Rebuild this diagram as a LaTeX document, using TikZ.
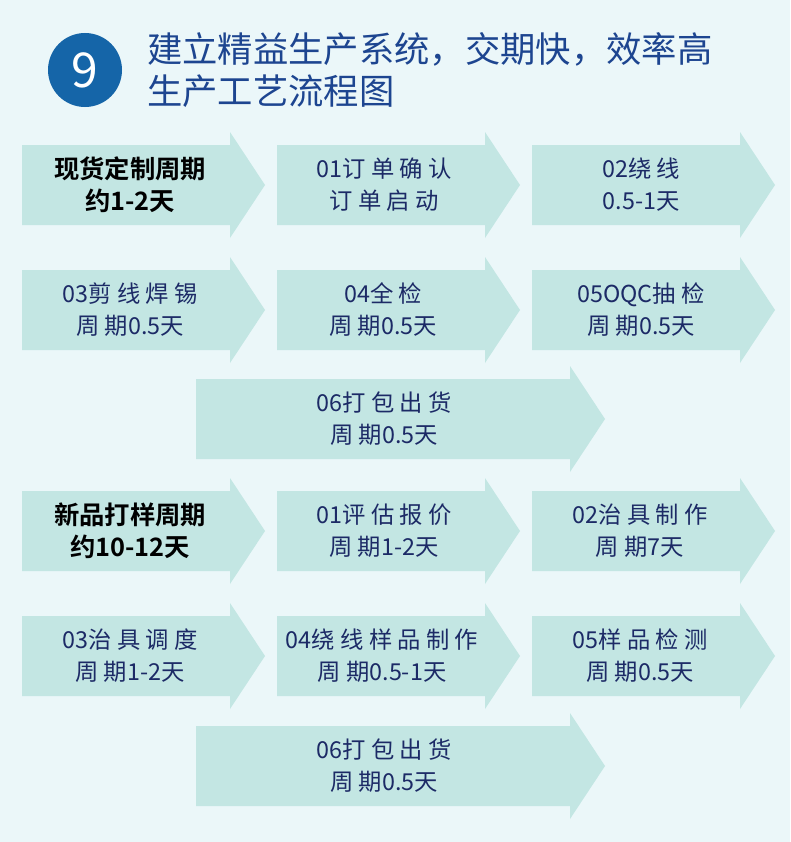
\documentclass[tikz,border=0pt]{standalone}
\usepackage{fontspec}
\newfontfamily\cjk{Noto Sans CJK SC}
\newfontfamily\cjkb{Noto Sans CJK SC Bold}
\definecolor{bg}{HTML}{EBF7F9}
\definecolor{ar}{HTML}{C3E6E3}
\definecolor{nv}{HTML}{1C2A66}
\definecolor{tt}{HTML}{1D4590}
\definecolor{cb}{HTML}{1565A8}
\newcommand{\flowarrow}[4]{% x, yc, bodywidth, name
  \fill[ar] (#1,#2-40) -- (#1+#3,#2-40) -- (#1+#3,#2-53) -- (#1+#3+35,#2) -- (#1+#3,#2+53) -- (#1+#3,#2+40) -- (#1,#2+40) -- cycle;
  \coordinate (#4) at (#1+#3/2+8,#2);}
\begin{document}
\begin{tikzpicture}[x=0.75pt,y=-0.75pt,
  txt/.style={inner sep=0pt,align=center,font=\cjk\fontsize{17.5}{24}\selectfont,text=nv},
  hdr/.style={inner sep=0pt,align=center,font=\cjkb\fontsize{19}{24}\selectfont,text=black}]
\fill[bg] (0,0) rectangle (790,842);
\useasboundingbox (0,0) rectangle (790,842);
\node[circle,fill=cb,minimum size=55.5pt,inner sep=0pt,text=white,font=\cjk\fontsize{36}{36}\selectfont] (num) at (85,70) {9};
\node[anchor=west,align=left,inner sep=0pt,text=tt,font=\cjk\fontsize{26.5}{31}\selectfont] (title) at (147,70)
  {建立精益生产系统，交期快，效率高\\生产工艺流程图};
\foreach \x/\y/\n in {22/185/a1,277/185/a2,532/185/a3,22/310/a4,277/310/a5,532/310/a6,22/531/b1,277/531/b2,532/531/b3,22/656/b4,277/656/b5,532/656/b6}{
  \flowarrow{\x}{\y}{208}{\n}}
\flowarrow{196}{419}{374}{a7}
\flowarrow{196}{766}{374}{b7}
\node[hdr] (t1) at (130,185) {现货定制周期\\约1-2天};
\node[txt] (l2) at (384,185) {01订 单 确 认\\订 单 启 动};
\node[txt] (l3) at (641,185) {02绕 线\\0.5-1天};
\node[txt] (l4) at (130,310) {03剪 线 焊 锡\\周 期0.5天};
\node[txt] (l5) at (383,310) {04全 检\\周 期0.5天};
\node[txt] (l6) at (641,310) {05OQC抽 检\\周 期0.5天};
\node[txt] (l7) at (384,419) {06打 包 出 货\\周 期0.5天};
\node[hdr] (t2) at (130,531) {新品打样周期\\约10-12天};
\node[txt] (m2) at (384,531) {01评 估 报 价\\周 期1-2天};
\node[txt] (m3) at (640,531) {02治 具 制 作\\周 期7天};
\node[txt] (m4) at (130,656) {03治 具 调 度\\周 期1-2天};
\node[txt] (m5) at (382,656) {04绕 线 样 品 制 作\\周 期0.5-1天};
\node[txt] (m6) at (640,656) {05样 品 检 测\\周 期0.5天};
\node[txt] (m7) at (384,766) {06打 包 出 货\\周 期0.5天};
\end{tikzpicture}
\end{document}
